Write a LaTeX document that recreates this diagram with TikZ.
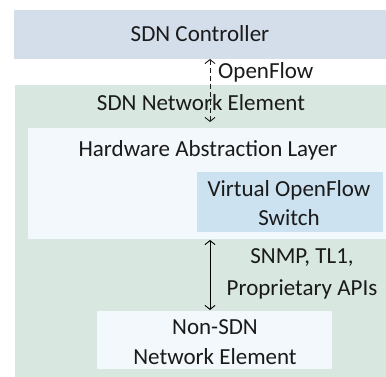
\documentclass[tikz,border=0pt]{standalone}
\usepackage{fontspec}
\setmainfont{Carlito}
\usetikzlibrary{arrows.meta}
\definecolor{ctrlc}{HTML}{D4DEEB}
\definecolor{nec}{HTML}{D8E7E0}
\definecolor{halc}{HTML}{F3F8FC}
\definecolor{swc}{HTML}{CCE2F0}
\definecolor{txtc}{HTML}{1A1A1A}
\tikzset{
  box/.style={rectangle, draw=none, inner sep=0pt, outer sep=0pt, anchor=north west},
  lbl/.style={inner sep=0pt, text=txtc, font=\fontsize{23}{29}\selectfont, align=center},
  conn/.style={line width=0.9pt, {Straight Barb[length=4pt,width=10pt]}-{Straight Barb[length=4pt,width=10pt]}},
}
\begin{document}
\begin{tikzpicture}[x=1pt,y=-1pt]
\useasboundingbox (0,0) rectangle (386,377);
% boxes
\node[box, fill=ctrlc, minimum width=372pt, minimum height=49pt] (ctrl) at (14,10) {};
\node[box, fill=nec, minimum width=371pt, minimum height=292pt] (ne) at (15,85) {};
\node[box, fill=halc, minimum width=358pt, minimum height=111pt] (hal) at (28,128) {};
\node[box, fill=swc, minimum width=186pt, minimum height=60pt] (sw) at (197,172) {};
\node[box, fill=halc, minimum width=235pt, minimum height=58pt] (nsdn) at (97,311) {};
% texts
\node[lbl] (tctrl) at (200,34) {SDN Controller};
\node[lbl, anchor=west] (tof) at (218,72) {OpenFlow};
\node[lbl] (tne) at (201,103) {SDN Network Element};
\node[lbl] (thal) at (208,150) {Hardware Abstraction Layer};
\node[lbl] (tsw) at (289,203) {Virtual OpenFlow\\Switch};
\node[lbl, font=\fontsize{23}{32}\selectfont] (tapi) at (302,274) {SNMP, TL1,\\Proprietary APIs};
\node[lbl, font=\fontsize{23}{30}\selectfont] (tnsdn) at (215,342) {Non-SDN\\Network Element};
% connectors
\coordinate (ax) at (210,0);
\draw[conn, draw=txtc, dash pattern=on 5pt off 3pt] (ctrl.south -| ax) -- ([yshift=6pt]hal.north -| ax);
\draw[conn, draw=black] ([yshift=-1pt]hal.south -| ax) -- ([yshift=1pt]nsdn.north -| ax);
\end{tikzpicture}
\end{document}
